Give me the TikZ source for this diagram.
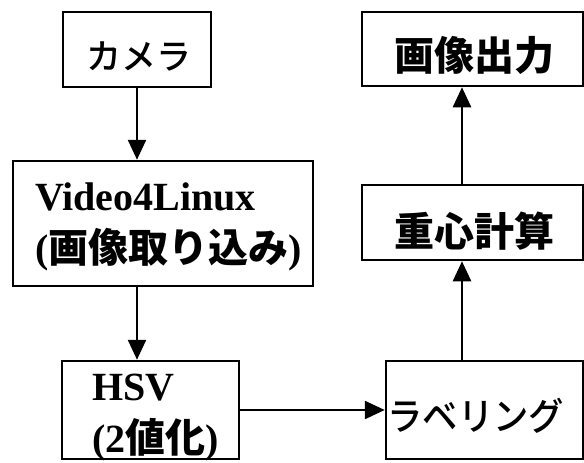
\documentclass[tikz,border=0pt]{standalone}
\usepackage{fontspec}
\setmainfont{Liberation Serif}
\newfontfamily\jp{Noto Sans CJK JP}
\newfontfamily\jpm{Noto Sans CJK JP Medium}
\usetikzlibrary{arrows.meta}
% #1 horizontal offset of the text's left end (l) or centre (c) from the node centre,
% #2 baseline raise above the node centre
\newcommand{\plcl}[3]{\raisebox{#2}[0pt][0pt]{\makebox[0pt][l]{\hspace*{#1}#3}}}
\newcommand{\plcc}[3]{\raisebox{#2}[0pt][0pt]{\makebox[0pt][c]{\hspace*{#1}\hspace*{#1}#3}}}
\tikzset{
  box/.style={draw, line width=2.5pt, inner sep=0pt, fill=white},
  conn/.style={line width=2.5pt, -{Triangle[length=20pt,width=18pt]}},
}
\begin{document}
\begin{tikzpicture}[x=1pt,y=-1pt]
\useasboundingbox[fill=white] (0,0) rectangle (584,463);
% boxes
\node[box, minimum width=148pt, minimum height=75pt, font=\jpm\fontsize{35}{40}\selectfont] (cam) at (137,49.5)
  {\plcc{2pt}{-19.5pt}{カメラ}};
\node[box, minimum width=300pt, minimum height=125pt, font=\bfseries\fontsize{40}{52.5}\selectfont] (vid) at (163,223.5)
  {\plcl{-128pt}{13.5pt}{\begin{tabular}[t]{@{}l@{}}Video4Linux\\({\jp\bfseries 画像取り込み})\end{tabular}}};
\node[box, minimum width=177pt, minimum height=98pt, font=\bfseries\fontsize{40}{52}\selectfont] (hsv) at (150.5,410)
  {\plcl{-58.5pt}{10pt}{\begin{tabular}[t]{@{}l@{}}HSV\\(2{\jp\bfseries 値化})\end{tabular}}};
\node[box, minimum width=197pt, minimum height=98pt, font=\jpm\fontsize{38}{40}\selectfont] (lab) at (484.5,410)
  {\plcl{-97pt}{-20pt}{\scalebox{0.93}[1]{ラベリング}}};
\node[box, minimum width=221pt, minimum height=75pt, font=\jp\bfseries\fontsize{40}{44}\selectfont] (cog) at (472.5,222.5)
  {\plcc{1.5pt}{-23.5pt}{重心計算}};
\node[box, minimum width=221pt, minimum height=74pt, font=\jp\bfseries\fontsize{40}{44}\selectfont] (out) at (472.5,49)
  {\plcc{1.5pt}{-21pt}{画像出力}};
% connectors
\coordinate (ax) at (462,0);
\draw[conn] (cam.south) -- (cam.south |- vid.north);
\draw[conn] (vid.south -| cam.south) -- (hsv.north -| cam.south);
\draw[conn] (hsv.east) -- (lab.west);
\draw[conn] (lab.north -| ax) -- (cog.south -| ax);
\draw[conn] (cog.north -| ax) -- (out.south -| ax);
\end{tikzpicture}
\end{document}
